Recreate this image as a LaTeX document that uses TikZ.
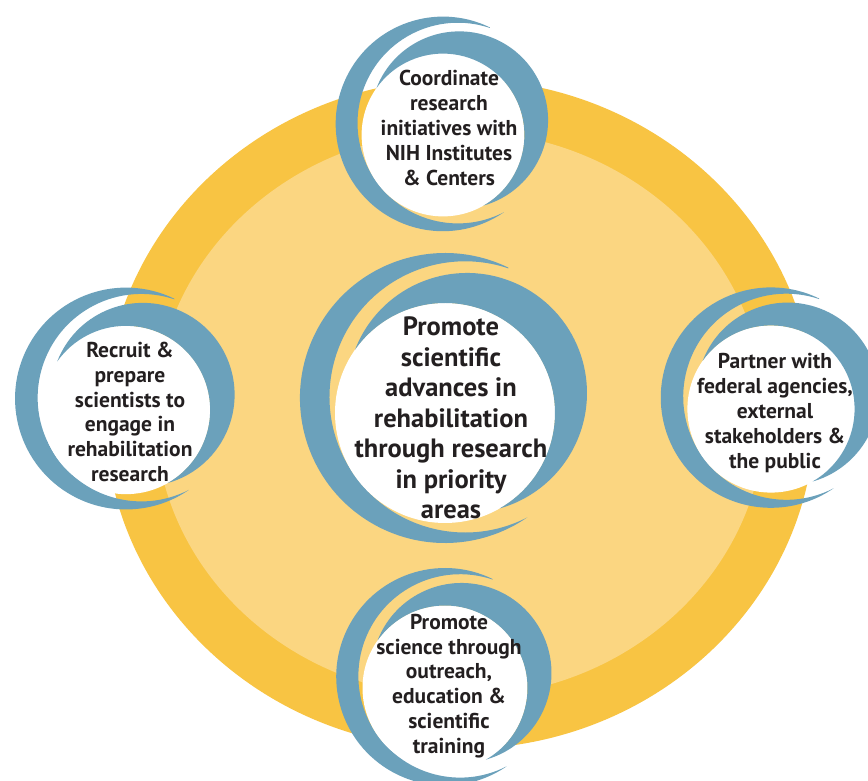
\documentclass[tikz,border=0pt]{standalone}
\usepackage{fontspec}
\setmainfont{PT Sans}
\definecolor{ringdark}{HTML}{F8C443}
\definecolor{ringlight}{HTML}{FBD681}
\definecolor{swirlblue}{HTML}{6BA1BB}
\definecolor{txtcol}{HTML}{231F20}
\begin{document}
\begin{tikzpicture}[x=1pt,y=1pt,
  swirl/.pic={
    \fill[swirlblue] (63.3,145.4) arc[start angle=64.1, end angle=304.6, radius=145]
       arc[start angle=297.3, end angle=71.4, radius=135.6] -- cycle;
    \fill[white] (0,0) circle[radius=110];
    \fill[swirlblue] (-89.9,63.4) arc[start angle=158.8, end angle=-74.2, radius=120]
       arc[start angle=-60.2, end angle=144.8, radius=110] -- cycle;
  },
  bigtxt/.style={text=txtcol, align=center, inner sep=0pt,
    font=\bfseries\fontsize{26.5}{30.5}\selectfont},
  smalltxt/.style={text=txtcol, align=center, inner sep=0pt,
    font=\bfseries\fontsize{21.5}{24.8}\selectfont}
]
\useasboundingbox (0,0) rectangle (868,781);
\clip (0,0) rectangle (868,781);
\fill[white] (0,0) rectangle (868,781);

% background ring
\fill[ringdark] (460,367) ellipse[x radius=355, y radius=335];
\fill[ringlight] (460,367) ellipse[x radius=305, y radius=283];

% swirls
\pic (sC) at (445,368) {swirl};
\pic[scale=0.74] (sT) at (443,646) {swirl};
\pic[scale=0.765] (sL) at (126,371) {swirl};
\pic[scale=0.76] (sR) at (771,372) {swirl};
\pic[scale=0.75] (sB) at (445,93) {swirl};

% texts
\node[bigtxt] (tC) at (451,363) {Promote\\scientific\\advances in\\rehabilitation\\through research\\in priority\\areas};
\node[smalltxt] (tT) at (449,653) {Coordinate\\research\\initiatives with\\NIH Institutes\\\& Centers};
\node[smalltxt] (tL) at (130,369) {Recruit \&\\prepare\\scientists to\\engage in\\rehabilitation\\research};
\node[smalltxt] (tR) at (775,368) {Partner with\\federal agencies,\\external\\stakeholders \&\\the public};
\node[smalltxt] (tB) at (449,95) {Promote\\science through\\outreach,\\education \&\\scientific\\training};
\end{tikzpicture}
\end{document}
